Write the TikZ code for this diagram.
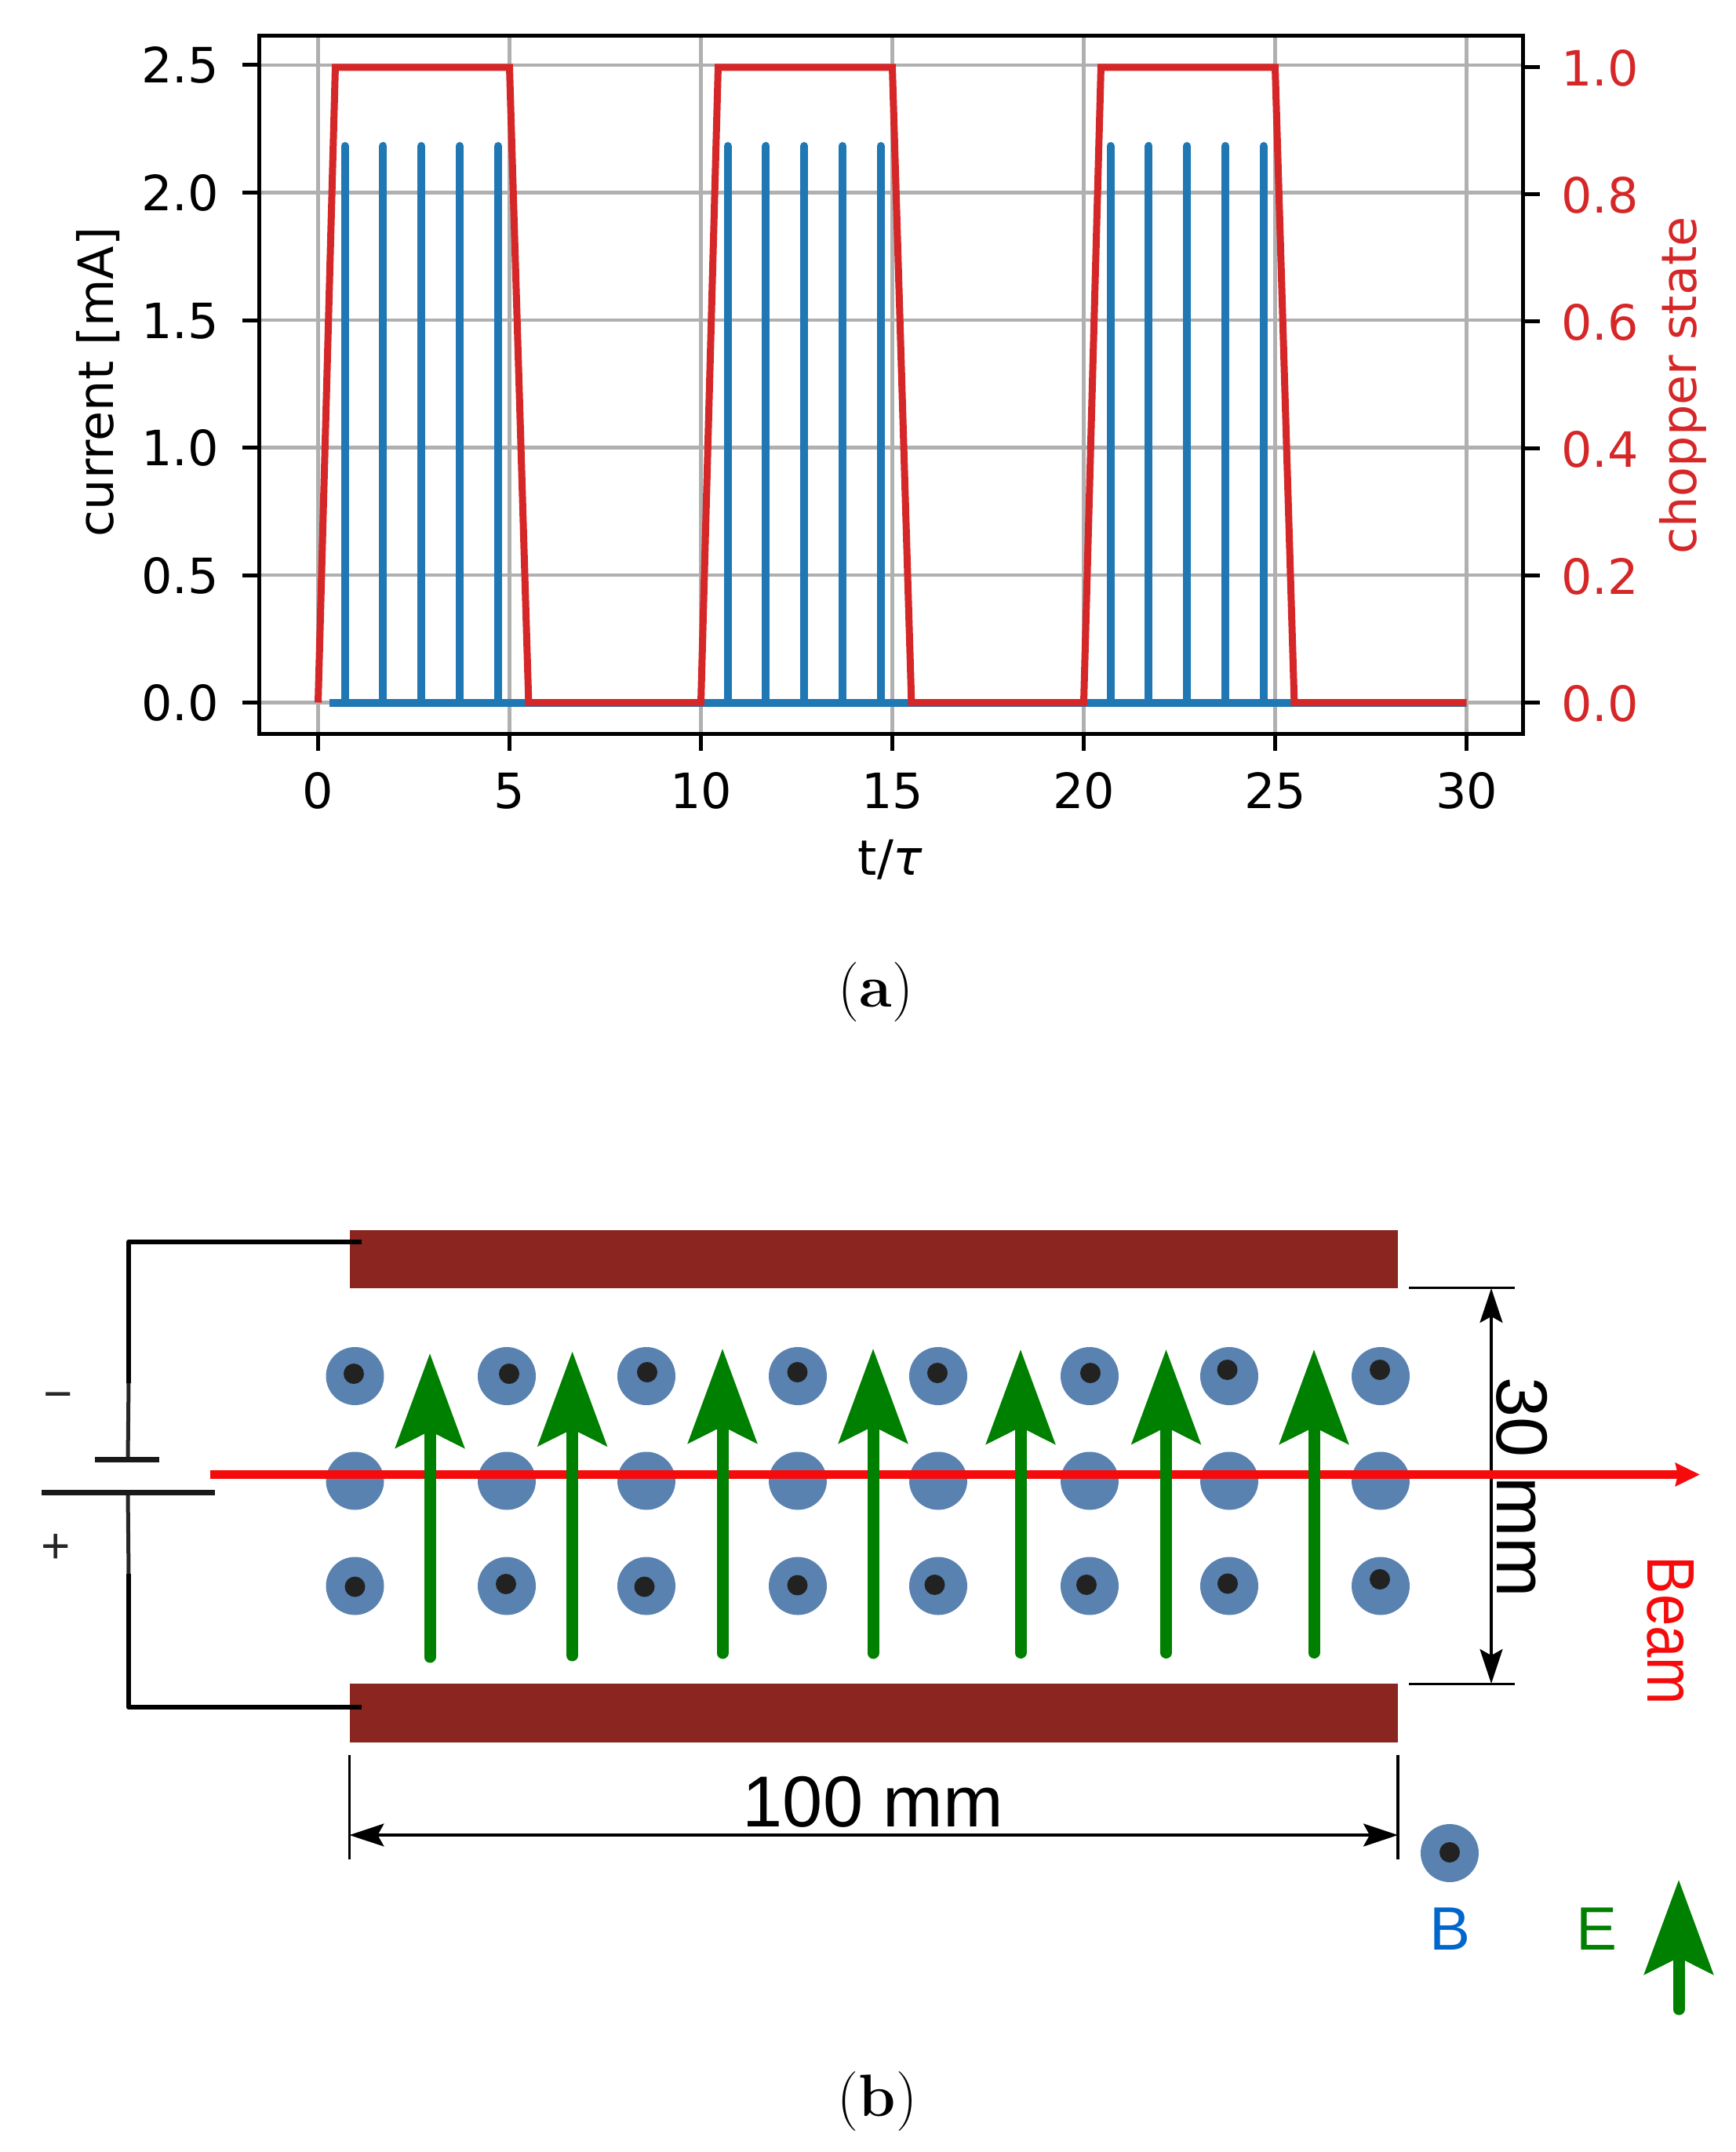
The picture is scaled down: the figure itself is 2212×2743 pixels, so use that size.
\documentclass[tikz,border=0pt]{standalone}
\usepackage{fontspec}
\usepackage{graphicx}
\usetikzlibrary{arrows.meta}
\newfontfamily\plotfont{DejaVu Sans}
\newfontfamily\labfont{Liberation Sans}
\definecolor{gridgray}{HTML}{B0B0B0}
\definecolor{mplblue}{HTML}{1F77B4}
\definecolor{mplred}{HTML}{D62728}
\definecolor{platered}{HTML}{8A261F}
\definecolor{fieldblue}{HTML}{5A82B0}
\definecolor{dotblack}{HTML}{222222}
\definecolor{efgreen}{HTML}{008000}
\definecolor{beamred}{HTML}{F50B0B}
\definecolor{bblue}{HTML}{0066CC}
\tikzset{
  plotlab/.style={font=\plotfont\fontsize{62}{74}\selectfont,inner sep=0pt,outer sep=0pt},
  redlab/.style={plotlab,text=mplred},
  dimlab/.style={font=\labfont\fontsize{92}{100}\selectfont,inner sep=0pt,outer sep=0pt,text=black},
  leglab/.style={font=\labfont\fontsize{78}{90}\selectfont,inner sep=0pt,outer sep=0pt},
  caplab/.style={font=\fontsize{76}{90}\selectfont,inner sep=0pt,outer sep=0pt,text=black},
  gridline/.style={draw=gridgray,line width=4.5pt},
  tickmark/.style={draw=black,line width=5pt},
  efield/.style={draw=efgreen,line width=15pt,line cap=round,
    -{Stealth[length=120pt,width=87pt,inset=21pt,fill=efgreen]}},
  dimarrow/.style={draw=black,line width=3.2pt,
    {Stealth[length=44pt,width=29pt,inset=8pt]}-{Stealth[length=44pt,width=29pt,inset=8pt]}},
  extline/.style={draw=black,line width=3.2pt},
  wirethick/.style={draw=black,line width=6.5pt},
  wirethin/.style={draw=black!85,line width=5pt},
  batplate/.style={draw=black!90,line width=7pt},
  plate/.style={fill=platered},
  fieldcirc/.style={fill=fieldblue},
  fielddot/.style={fill=dotblack},
}
\begin{document}
\begin{tikzpicture}[x=1pt,y=-1pt]
\useasboundingbox (0,0) rectangle (2212,2743);
% ---------- panel (a) ----------
\foreach \t in {0,5,...,30}{
  \pgfmathsetmacro{\xx}{405.5+48.8*\t}
  \draw[gridline] (\xx,46) -- (\xx,935);
  \draw[tickmark] (\xx,935) -- (\xx,957);
  \node[plotlab,anchor=base] (xt\t) at (\xx,1030) {\t};
}
\foreach \i/\v in {0/2.5,1/2.0,2/1.5,3/1.0,4/0.5,5/0.0}{
  \pgfmathsetmacro{\yy}{83+162.5*\i}
  \draw[gridline] (330,\yy) -- (1941,\yy);
  \draw[tickmark] (309,\yy) -- (330,\yy);
  \node[plotlab,anchor=base east] (yl\i) at (279,\yy+23) {\v};
}
\foreach \i/\v in {0/1.0,1/0.8,2/0.6,3/0.4,4/0.2,5/0.0}{
  \pgfmathsetmacro{\yy}{86+161.9*\i}
  \draw[tickmark] (1941,\yy) -- (1963,\yy);
  \node[redlab,anchor=base west] (yr\i) at (1990,\yy+24) {\v};
}
% blue pulses
\draw[mplblue,line width=10pt] (420,895.5) -- (1869,895.5);
\foreach \p in {0,10,20}{
  \foreach \k in {0,...,4}{
    \pgfmathsetmacro{\xx}{405.5+48.8*(\p+0.7+\k)}
    \draw[mplblue,line width=10pt,line cap=round] (\xx,895.5) -- (\xx,186);
  }
}
% red chopper state
\draw[mplred,line width=9pt,line join=miter]
  (405.5,895.5)
  \foreach \p in {0,10,20}{
    -- ({405.5+48.8*(\p+0.45)},86)
    -- ({405.5+48.8*(\p+5)},86)
    -- ({405.5+48.8*(\p+5.5)},895.5)
    -- ({405.5+48.8*(\p+10)},895.5)
  };
\draw[draw=black,line width=5pt] (330,46) rectangle (1941,935);
\node[plotlab,rotate=90,anchor=base] (ylabel) at (144,487) {current [mA]};
\node[redlab,rotate=90,anchor=base] (yrlabel) at (2162,491.5) {chopper state};
\node[plotlab,anchor=base] (xlabel) at (1135,1115) {t/{\itshape τ}};
\node[caplab,anchor=base east] (capa) at (1164,1283.6) {(\textbf{a})};
% ---------- panel (b) ----------
\path[plate] (445.5,1567.5) rectangle (1782,1642);
\path[plate] (445.5,2146) rectangle (1782,2221);
% battery
\coordinate (wt) at (461,1583);
\coordinate (wb) at (461,2176);
\coordinate (wtc) at (164,1583);
\coordinate (wbc) at (164,2176);
\coordinate (wtm) at (164,1763);
\coordinate (wbm) at (164,2006);
\coordinate (batn) at (163,1860);
\coordinate (batp) at (163,1902);
\draw[wirethick,line join=round] (wt) -- (wtc) -- (wtm);
\draw[wirethin] (wtm) -- (batn);
\draw[wirethick,line join=round] (wb) -- (wbc) -- (wbm);
\draw[wirethin] (wbm) -- (batp);
\draw[batplate] (121,1860) -- (203,1860);
\draw[batplate] (53,1902) -- (274,1902);
\node[font=\labfont\fontsize{64}{70}\selectfont,text=black!85,inner sep=0pt] (minus) at (74.5,1787) {−};
\node[font=\labfont\fontsize{64}{70}\selectfont,text=black!85,inner sep=0pt] (plus) at (71.5,1974) {+};
% magnetic field circles
\foreach \cx in {452.5,646,824,1017,1196,1389,1567,1760}{
  \foreach \cy in {1754,1887.5,2021.5}{
    \path[fieldcirc] (\cx,\cy) circle[radius=37];
  }
}
\foreach \dx/\dy in {451/1751,649/1751,825/1749,1016.5/1749,1195/1750,1390/1750,1564.5/1746,1759/1746,
  452.5/2022.5,645/2019,821.5/2022.5,1016.5/2020.5,1191.5/2020,1385/2020,1565/2018.5,1759/2013}{
  \path[fielddot] (\dx,\dy) circle[radius=13];
}
% dimensions
\coordinate (da) at (1901,1642);
\coordinate (db) at (1901,2146);
\draw[extline] (1796,1641.5) -- (1931,1641.5);
\draw[extline] (1796,2146.5) -- (1931,2146.5);
\draw[dimarrow] (da) -- (db);
\coordinate (dl) at (445.5,2339);
\coordinate (dr) at (1782,2339);
\draw[extline] (445.5,2237) -- (445.5,2370);
\draw[extline] (1782,2237) -- (1782,2370);
\draw[dimarrow] (dl) -- (dr);
\node[dimlab,anchor=base] (dimh) at (1113,2328) {100 mm};
\node[dimlab,rotate=-90,anchor=base west] (dimv) at (1908.5,1755) {30 mm};
% beam
\coordinate (bs) at (268,1879.5);
\coordinate (be) at (2167,1879.5);
\draw[beamred,line width=11pt,-{Stealth[length=31pt,width=29pt,inset=3pt]}] (bs) -- (be);
\node[leglab,rotate=-90,anchor=base west,text=beamred] (beam) at (2100,1983.6) {\scalebox{0.93}[1.1]{Beam}};
% electric field arrows
\foreach \i/\ex/\et/\eb in {1/548/1725/2112,2/729.6/1722.5/2110,3/921/1719/2107,4/1113/1719/2107,
  5/1301/1720/2106.5,6/1486.5/1720/2106.5,7/1675/1720/2106.5}{
  \coordinate (eb\i) at (\ex,\eb);
  \coordinate (et\i) at (\ex,\et);
  \draw[efield] (eb\i) -- (et\i);
}
% legend
\path[fieldcirc] (1848,2362) circle[radius=37];
\path[fielddot] (1848,2361) circle[radius=13];
\node[leglab,anchor=base,text=bblue] (legb) at (1848,2485.5) {B};
\node[leglab,anchor=base,text=efgreen] (lege) at (2035,2485.5) {E};
\coordinate (lb) at (2140,2561);
\coordinate (lt) at (2140,2396);
\draw[efield] (lb) -- (lt);
\node[caplab,anchor=base east] (capb) at (1169,2697) {(\textbf{b})};
\end{tikzpicture}
\end{document}
